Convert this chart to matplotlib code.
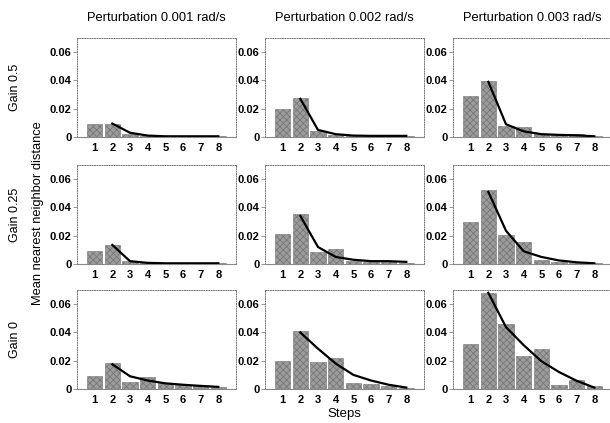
import matplotlib
matplotlib.use("Agg")
import matplotlib.pyplot as plt
import numpy as np

plt.rcParams['font.family'] = ['Liberation Sans', 'DejaVu Sans']
plt.rcParams['hatch.color'] = '#444444'
plt.rcParams['hatch.linewidth'] = 0.6

steps = [1, 2, 3, 4, 5, 6, 7, 8]
curve_steps = [2, 3, 4, 5, 6, 7, 8]
col_titles = ["Perturbation 0.001 rad/s", "Perturbation 0.002 rad/s", "Perturbation 0.003 rad/s"]
row_titles = ["Gain 0.5", "Gain 0.25", "Gain 0"]
yticks = [0, 0.02, 0.04, 0.06]
ytick_labels = ["0", "0.02", "0.04", "0.06"]

# bars[row][col]
bars_g05_p1 = [0.009, 0.0095, 0.002, 0.001, 0.0005, 0.001, 0.0008, 0.0005]
bars_g05_p2 = [0.020, 0.0274, 0.004, 0.0015, 0.0008, 0.0008, 0.0008, 0.0008]
bars_g05_p3 = [0.0288, 0.0394, 0.008, 0.0068, 0.002, 0.0015, 0.002, 0.001]
bars_g025_p1 = [0.0091, 0.0135, 0.002, 0.0005, 0.0005, 0.0005, 0.0005, 0.0005]
bars_g025_p2 = [0.021, 0.035, 0.0086, 0.0106, 0.002, 0.0015, 0.0015, 0.001]
bars_g025_p3 = [0.030, 0.052, 0.0203, 0.0157, 0.0025, 0.0015, 0.001, 0.0005]
bars_g0_p1 = [0.0095, 0.0187, 0.0052, 0.0085, 0.0043, 0.0025, 0.002, 0.0015]
bars_g0_p2 = [0.020, 0.041, 0.019, 0.022, 0.0043, 0.0038, 0.002, 0.001]
bars_g0_p3 = [0.0317, 0.068, 0.046, 0.023, 0.028, 0.003, 0.0062, 0.0024]

curve_g05_p1 = [0.0095, 0.003, 0.001, 0.0005, 0.0005, 0.0005, 0.0005]
curve_g05_p2 = [0.027, 0.005, 0.002, 0.001, 0.0008, 0.0008, 0.0008]
curve_g05_p3 = [0.039, 0.009, 0.004, 0.002, 0.0015, 0.0012, 0.0005]
curve_g025_p1 = [0.0135, 0.002, 0.0008, 0.0005, 0.0005, 0.0005, 0.0005]
curve_g025_p2 = [0.034, 0.012, 0.005, 0.003, 0.002, 0.002, 0.0015]
curve_g025_p3 = [0.051, 0.0235, 0.009, 0.005, 0.0025, 0.0012, 0.0005]
curve_g0_p1 = [0.0175, 0.009, 0.006, 0.004, 0.003, 0.0022, 0.0015]
curve_g0_p2 = [0.040, 0.0285, 0.018, 0.010, 0.006, 0.003, 0.001]
curve_g0_p3 = [0.068, 0.0437, 0.031, 0.0197, 0.012, 0.0058, 0.001]

bars = [[bars_g05_p1, bars_g05_p2, bars_g05_p3],
        [bars_g025_p1, bars_g025_p2, bars_g025_p3],
        [bars_g0_p1, bars_g0_p2, bars_g0_p3]]
curves = [[curve_g05_p1, curve_g05_p2, curve_g05_p3],
          [curve_g025_p1, curve_g025_p2, curve_g025_p3],
          [curve_g0_p1, curve_g0_p2, curve_g0_p3]]

W, H = 610, 423
fig = plt.figure(figsize=(W / 100, H / 100), dpi=100)
fig.patch.set_facecolor('white')

lefts = [77, 265, 453]
tops = [38, 165, 290]
aw, ah = 159, 99

for r in range(3):
    for c in range(3):
        ax = fig.add_axes([lefts[c] / W, 1 - (tops[r] + ah) / H, aw / W, ah / H])
        ax.bar(steps, bars[r][c], width=0.85, color='#9c9c9c', edgecolor='#777777',
               linewidth=0.4, hatch='xxxxx', zorder=2)
        ax.plot(curve_steps, curves[r][c], color='black', linewidth=1.6, zorder=3)
        ax.set_xlim(0.0, 9.0)
        ax.set_ylim(0, 0.07)
        ax.set_xticks(steps)
        ax.set_xticklabels([str(s) for s in steps], fontsize=8, fontweight='bold')
        ax.set_yticks(yticks)
        ax.set_yticklabels(ytick_labels, fontsize=8, fontweight='bold')
        ax.tick_params(axis='x', length=0, pad=4)
        ax.tick_params(axis='y', length=3, width=0.6, color='#888888', pad=1)
        for s in ['top', 'right', 'left']:
            ax.spines[s].set_linestyle((0, (1, 1.5)))
            ax.spines[s].set_color('#777777')
            ax.spines[s].set_linewidth(0.7)
        ax.spines['bottom'].set_color('#888888')
        ax.spines['bottom'].set_linewidth(0.8)
        if r == 0:
            fig.text((lefts[c] + aw / 2) / W, 1 - 18 / H, col_titles[c],
                     ha='center', va='center', fontsize=9.3)
    fig.text(15 / W, 1 - (tops[r] + ah / 2) / H, row_titles[r], rotation=90,
             ha='center', va='center', fontsize=9)

fig.text(38 / W, 1 - 213 / H, "Mean nearest neighbor distance", rotation=90,
         ha='center', va='center', fontsize=9.3)
fig.text(344 / W, 1 - 414 / H, "Steps", ha='center', va='center', fontsize=9.5)

fig.savefig("out.png", dpi=100, facecolor='white')
